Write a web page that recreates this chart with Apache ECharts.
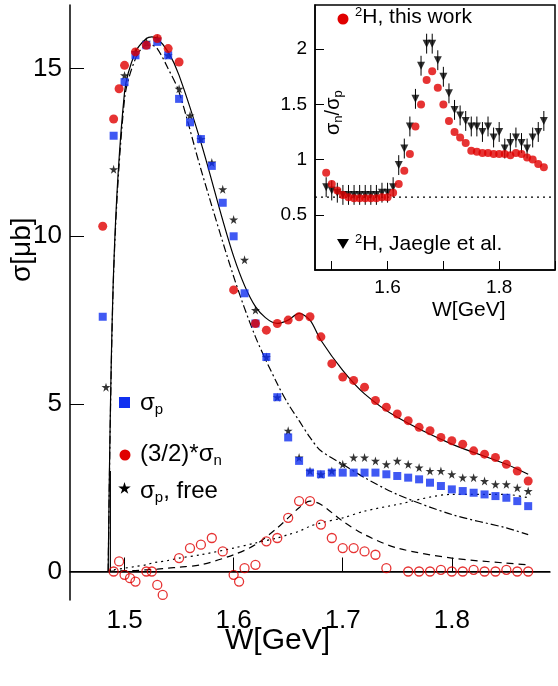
<!DOCTYPE html><html><head><meta charset="utf-8"><script src="https://cdn.jsdelivr.net/npm/echarts@6/dist/echarts.min.js"></script>
<style>html,body{margin:0;background:#fff}#c{width:558px;height:686px}</style></head><body><div id="c"></div><script>
const pX=[1.48,1.49,1.50,1.51,1.52,1.53,1.54,1.55,1.56,1.57,1.58,1.59,1.60,1.61,1.62,1.63,1.64,1.65,1.66,1.67,1.68,1.69,1.70,1.71,1.72,1.73,1.74,1.75,1.76,1.77,1.78,1.79,1.80,1.81,1.82,1.83,1.84,1.85,1.86,1.87];
const pY=[7.6,13.0,14.6,15.4,15.7,15.8,15.4,14.1,13.4,12.9,12.1,11.0,10.0,8.3,7.4,6.4,5.2,4.0,3.3,2.95,2.9,2.95,2.95,2.95,2.95,2.95,2.9,2.85,2.8,2.75,2.65,2.55,2.45,2.4,2.35,2.3,2.25,2.2,2.1,1.95];
const nX=[1.48,1.49,1.495,1.50,1.51,1.52,1.53,1.54,1.55,1.60,1.62,1.63,1.64,1.65,1.66,1.67,1.68,1.69,1.70,1.71,1.72,1.73,1.74,1.75,1.76,1.77,1.78,1.79,1.80,1.81,1.82,1.83,1.84,1.85,1.86,1.87];
const nY=[10.3,13.5,14.4,15.1,15.5,15.7,15.9,15.6,15.2,8.4,7.4,7.2,7.4,7.5,7.6,7.6,7.0,6.2,5.8,5.7,5.5,5.1,4.9,4.7,4.5,4.3,4.2,4.0,3.9,3.8,3.6,3.5,3.4,3.2,3.0,2.7];
const fX=[1.483,1.49,1.50,1.51,1.52,1.53,1.54,1.55,1.56,1.57,1.58,1.59,1.60,1.61,1.62,1.63,1.64,1.65,1.66,1.67,1.68,1.69,1.70,1.71,1.72,1.73,1.74,1.75,1.76,1.77,1.78,1.79,1.80,1.81,1.82,1.83,1.84,1.85,1.86,1.87];
const fY=[5.5,12.0,14.8,15.5,15.8,15.9,15.4,14.4,13.6,12.9,12.2,11.4,10.5,9.3,7.8,6.4,5.2,4.2,3.4,3.0,2.9,3.0,3.2,3.4,3.4,3.3,3.2,3.3,3.2,3.1,3.0,3.0,2.9,2.8,2.8,2.7,2.6,2.6,2.5,2.4];
const rX=[1.49,1.495,1.50,1.505,1.51,1.52,1.525,1.53,1.535,1.55,1.56,1.57,1.58,1.59,1.60,1.605,1.61,1.62,1.63,1.64,1.65,1.66,1.67,1.68,1.69,1.70,1.71,1.72,1.73,1.74,1.76,1.77,1.78,1.79,1.80,1.81,1.82,1.83,1.84,1.85,1.86,1.87];
const rY=[0.0,0.3,-0.1,-0.2,-0.3,0.0,0.0,-0.4,-0.7,0.4,0.7,0.8,1.0,0.6,-0.1,-0.3,0.1,0.2,0.9,1.0,1.6,2.1,2.1,1.4,1.0,0.7,0.7,0.6,0.5,0.1,0.0,0.0,0.0,0.05,0.0,0.0,0.05,0.0,0.0,0.05,0.0,0.0];
const cX=[1.485,1.49,1.50,1.51,1.52,1.525,1.53,1.54,1.55,1.57,1.60,1.62,1.64,1.65,1.66,1.67,1.68,1.70,1.72,1.75,1.80,1.85,1.87];
const solidY=[0,9.0,14.3,15.5,15.9,15.95,15.9,15.5,14.8,12.8,9.4,7.9,7.4,7.5,7.7,7.5,6.9,6.0,5.3,4.6,3.8,3.2,2.9];
const dashDotY=[0,8.9,14.1,15.3,15.7,15.7,15.6,15.0,14.3,12.0,8.8,7.0,5.6,5.0,4.5,4.0,3.6,3.2,2.8,2.3,1.7,1.3,1.1];
const dotY=[0,0.05,0.1,0.15,0.2,0.25,0.28,0.33,0.4,0.5,0.7,0.85,1.0,1.1,1.2,1.35,1.45,1.6,1.8,2.0,2.3,2.3,2.2];
const dashY=[0,0.01,0.02,0.03,0.05,0.06,0.07,0.1,0.13,0.2,0.5,0.8,1.3,1.6,1.9,2.1,2.0,1.5,1.1,0.7,0.4,0.25,0.2];
const iX=[1.49,1.50,1.51,1.52,1.53,1.54,1.55,1.56,1.57,1.58,1.59,1.60,1.61,1.62,1.63,1.64,1.65,1.66,1.67,1.68,1.69,1.70,1.71,1.72,1.73,1.74,1.75,1.76,1.77,1.78,1.79,1.80,1.81,1.82,1.83,1.84,1.85,1.86,1.87,1.88];
const iRed=[0.88,0.78,0.72,0.68,0.66,0.65,0.65,0.65,0.65,0.65,0.66,0.66,0.7,0.78,0.9,1.05,1.3,1.5,1.72,1.8,1.65,1.5,1.35,1.25,1.2,1.15,1.08,1.07,1.06,1.06,1.05,1.05,1.05,1.04,1.06,1.05,1.02,1.0,0.96,0.93];
const iJx=[1.49,1.50,1.51,1.52,1.53,1.54,1.55,1.56,1.57,1.58,1.59,1.60,1.61,1.62,1.63,1.64,1.65,1.66,1.67,1.68,1.69,1.70,1.71,1.72,1.73,1.74,1.75,1.76,1.77,1.78,1.79,1.80,1.81,1.82,1.83,1.84,1.85,1.86,1.87,1.88];
const iJy=[0.75,0.72,0.7,0.68,0.68,0.68,0.68,0.68,0.68,0.68,0.7,0.7,0.75,0.95,1.1,1.3,1.55,1.85,2.05,2.05,1.9,1.75,1.6,1.45,1.4,1.35,1.3,1.3,1.25,1.3,1.2,1.25,1.1,1.15,1.2,1.15,1.1,1.2,1.25,1.35];
const mainXTicks=[1.5,1.6,1.7,1.8], mainYTicks=[0,5,10,15];
const insetXTicks=[1.5,1.6,1.7,1.8,1.9], insetXLabels=[1.6,1.8], insetYTicks=[0.5,1,1.5,2];
const zip=(a,b)=>a.map((v,i)=>[v,b[i]]);
const starPts=[[50,0],[61,35],[98,35],[68,57],[79,91],[50,70],[21,91],[32,57],[2,35],[39,35]];
const star='path://M50,0L61,35L98,35L68,57L79,91L50,70L21,91L32,57L2,35L39,35Z';
const F='Liberation Sans';
const ch=echarts.init(document.getElementById('c'));
const axl={lineStyle:{color:'#000',width:1.5}};
const mkAx=(o,ticks,labels,fs,tl)=>Object.assign({axisLine:axl,splitLine:{show:false},
  axisTick:{inside:true,length:tl,customValues:ticks,lineStyle:{color:'#000'}},
  axisLabel:{color:'#000',fontFamily:F,fontSize:fs,customValues:labels,formatter:v=>String(+v.toFixed(2))}},o);
const line=(y,t)=>({type:'line',data:zip(cX,y),symbol:'none',smooth:0.3,lineStyle:{color:'#000',width:1.2,type:t},z:3});
ch.setOption({animation:false,
grid:[{left:70,top:5,right:8,bottom:86},{left:315,top:5,width:240,height:265,show:true,backgroundColor:'#fff',borderColor:'#000',borderWidth:1.5,z:10}],
xAxis:[mkAx({type:'value',gridIndex:0,min:1.45,max:1.89},mainXTicks,mainXTicks,26,14),
 mkAx({type:'value',gridIndex:1,min:1.47,max:1.9,z:11},insetXTicks,insetXLabels,19,9)],
yAxis:[mkAx({type:'value',gridIndex:0,min:-0.85,max:16.9},mainYTicks,mainYTicks,26,14),
 mkAx({type:'value',gridIndex:1,min:0,max:2.4,z:11},insetYTicks,insetYTicks,19,9)],
series:[
 line(solidY,'solid'),line(dashDotY,[8,3,2,3]),line(dotY,[2,4]),line(dashY,[7,5]),
 {type:'line',data:[[1.45,0],[1.89,0]],symbol:'none',lineStyle:{color:'#000',width:1.2}},
 {type:'line',data:[[1.487,0],[1.487,3]],symbol:'none',lineStyle:{color:'#000',width:1.2}},
 {type:'scatter',data:zip(rX,rY),symbol:'circle',symbolSize:9,itemStyle:{color:'rgba(0,0,0,0)',borderColor:'#e00000',borderWidth:1.3},z:4},
 {type:'scatter',data:zip(fX,fY),symbol:star,symbolSize:9,itemStyle:{color:'#000'},z:5},
 {type:'scatter',data:zip(pX,pY),symbol:'rect',symbolSize:8,itemStyle:{color:'#1030f0'},z:6},
 {type:'scatter',data:zip(nX,nY),symbol:'circle',symbolSize:9,itemStyle:{color:'#e00000'},z:7},
 {type:'line',xAxisIndex:1,yAxisIndex:1,data:[[1.47,0.66],[1.9,0.66]],symbol:'none',lineStyle:{color:'#000',type:[2,4],width:1.2},z:12},
 {type:'custom',xAxisIndex:1,yAxisIndex:1,z:12,data:zip(iJx,iJy),renderItem:(p,api)=>{const a=api.coord([api.value(0),api.value(1)-0.09]),b=api.coord([api.value(0),api.value(1)+0.09]);return {type:'line',shape:{x1:a[0],y1:a[1],x2:b[0],y2:b[1]},style:{stroke:'#000',lineWidth:1}};}},
 {type:'scatter',xAxisIndex:1,yAxisIndex:1,data:zip(iJx,iJy),symbol:'triangle',symbolRotate:180,symbolSize:8,itemStyle:{color:'#000'},z:13},
 {type:'scatter',xAxisIndex:1,yAxisIndex:1,data:zip(iX,iRed),symbol:'circle',symbolSize:8,itemStyle:{color:'#e00000'},z:14}
],
graphic:[
 {type:'text',x:8,y:282,rotation:Math.PI/2,style:{text:'σ[μb]',font:'28px '+F,fill:'#000'}},
 {type:'text',x:225,y:626,style:{text:'W[GeV]',font:'30px '+F,fill:'#000'}},
 {type:'rect',shape:{x:119,y:397,width:11,height:11},style:{fill:'#1030f0'}},
 {type:'text',x:140,y:390,style:{rich:{a:{fontSize:24,fontFamily:F},s:{fontSize:15,fontFamily:F,padding:[12,0,0,0]}},text:'{a|σ}{s|p}'}},
 {type:'circle',shape:{cx:125,cy:455,r:5.5},style:{fill:'#e00000'}},
 {type:'text',x:140,y:441,style:{rich:{a:{fontSize:24,fontFamily:F},s:{fontSize:15,fontFamily:F,padding:[12,0,0,0]}},text:'{a|(3/2)*σ}{s|n}'}},
 {type:'polygon',shape:{points:starPts.map(p=>[118+p[0]*0.13,482+p[1]*0.13])},style:{fill:'#000'}},
 {type:'text',x:140,y:478,style:{rich:{a:{fontSize:24,fontFamily:F},s:{fontSize:15,fontFamily:F,padding:[12,0,0,0]}},text:'{a|σ}{s|p}{a|, free}'}},
 {type:'circle',shape:{cx:343,cy:19,r:5.5},style:{fill:'#e00000'},z:20},
 {type:'text',x:355,y:6,z:20,style:{rich:{a:{fontSize:21,fontFamily:F},s:{fontSize:13,fontFamily:F,padding:[0,0,10,0]}},text:'{s|2}{a|H, this work}'}},
 {type:'polygon',shape:{points:[[337,239],[349,239],[343,249]]},style:{fill:'#000'},z:20},
 {type:'text',x:355,y:233,z:20,style:{rich:{a:{fontSize:21,fontFamily:F},s:{fontSize:13,fontFamily:F,padding:[0,0,10,0]}},text:'{s|2}{a|H, Jaegle et al.}'}},
 {type:'text',x:322,y:135,rotation:Math.PI/2,z:20,style:{rich:{a:{fontSize:20,fontFamily:F},s:{fontSize:13,fontFamily:F,padding:[10,0,0,0]}},text:'{a|σ}{s|n}{a|/σ}{s|p}'}},
 {type:'text',x:432,y:300,z:20,style:{text:'W[GeV]',font:'21px '+F,fill:'#000'}}
]});
</script></body></html>
